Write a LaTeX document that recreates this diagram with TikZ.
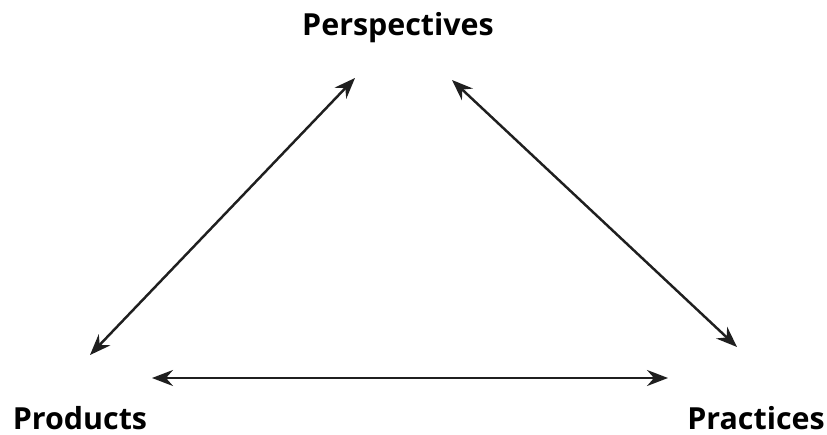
\documentclass[tikz,border=0pt]{standalone}
\usepackage{fontspec}
\setmainfont{Open Sans}
\usetikzlibrary{arrows.meta}

\begin{document}
\begin{tikzpicture}[x=0.02cm,y=-0.02cm,
  label/.style={font=\fontsize{17.3}{20}\selectfont\bfseries,inner sep=0pt,anchor=base},
  arr/.style={{Stealth[length=4.2mm,width=3.2mm,inset=1.4mm]}-{Stealth[length=4.2mm,width=3.2mm,inset=1.4mm]},line width=1.4pt,black!88}
]
  \useasboundingbox (0,0) rectangle (827,435);

  % Corner labels
  \node[label] (persp) at (398,36) {Perspectives};
  \node[label] (prod) at (80,429) {Products};
  \node[label] (prac) at (756,429) {Practices};

  % Arrow ends
  \coordinate (pl) at (355,78);
  \coordinate (pr) at (452,80);
  \coordinate (dl) at (90,355);
  \coordinate (dr) at (737,347);
  \coordinate (hl) at (152,378);
  \coordinate (hr) at (668,378);

  % Arrows
  \draw[arr] (dl) -- (pl);
  \draw[arr] (pr) -- (dr);
  \draw[arr] (hl) -- (hr);
\end{tikzpicture}
\end{document}
